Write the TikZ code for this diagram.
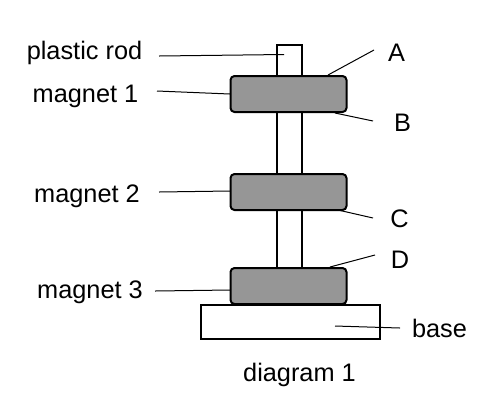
\documentclass[tikz,border=0pt]{standalone}
\usepackage{fontspec}
\setmainfont{Liberation Sans}
\tikzset{
  px/.style={x=0.75pt,y=-0.75pt},
  rodbox/.style={draw=black,line width=1.5pt,fill=white},
  magnetbox/.style={draw=black,line width=1.5pt,fill=magnetgray,rounded corners=3pt},
  basebox/.style={draw=black,line width=1.5pt,fill=white},
  leader/.style={draw=black,line width=0.75pt},
  lab/.style={font=\fontsize{19}{22}\selectfont,text=black,inner sep=0pt}
}
\definecolor{magnetgray}{RGB}{150,150,150}
\begin{document}
\begin{tikzpicture}[px]
\useasboundingbox (0,0) rectangle (491,401);
% rod
\draw[rodbox] (277,45) rectangle (301.5,280);
% base
\draw[basebox] (201,305) rectangle (380,339);
% magnets
\draw[magnetbox] (230.5,76) rectangle (346.5,112);
\draw[magnetbox] (230.5,174) rectangle (346.5,210);
\draw[magnetbox] (230.5,268) rectangle (346.5,304);
% labels
\node[lab] (rodlabel) at (84.5,53) {plastic rod};
\node[lab] (m1label) at (85.5,96) {magnet 1};
\node[lab] (m2label) at (87,196) {magnet 2};
\node[lab] (m3label) at (90,292) {magnet 3};
\node[lab] (a) at (396.5,53) {A};
\node[lab] (b) at (402.5,122.5) {B};
\node[lab] (c) at (399.5,218.5) {C};
\node[lab] (d) at (400,259.5) {D};
\node[lab] (baselabel) at (439.5,328) {base};
\node[lab] (caption) at (299.5,375) {diagram 1};
% leader ends
\coordinate (rs) at (159,56); \coordinate (re) at (284,54.5);
\coordinate (m1s) at (157,91); \coordinate (m1e) at (230,94);
\coordinate (m2s) at (159,192); \coordinate (m2e) at (230,191);
\coordinate (m3s) at (155,291); \coordinate (m3e) at (230,290);
\coordinate (as) at (374,50); \coordinate (ae) at (328,75);
\coordinate (bs) at (373,121); \coordinate (be) at (335,113);
\coordinate (cs) at (373,218); \coordinate (ce) at (338,210);
\coordinate (ds) at (375,255); \coordinate (de) at (330,267);
\coordinate (bas) at (400,328); \coordinate (bae) at (335,326);
\draw[leader] (rs) -- (re);
\draw[leader] (m1s) -- (m1e);
\draw[leader] (m2s) -- (m2e);
\draw[leader] (m3s) -- (m3e);
\draw[leader] (as) -- (ae);
\draw[leader] (bs) -- (be);
\draw[leader] (cs) -- (ce);
\draw[leader] (ds) -- (de);
\draw[leader] (bas) -- (bae);
\end{tikzpicture}
\end{document}
